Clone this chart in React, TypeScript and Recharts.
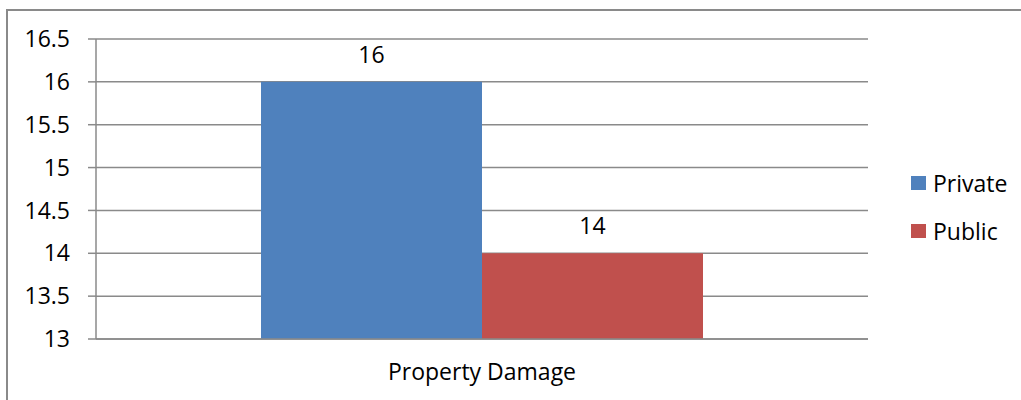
// PropertyDamageChart.tsx
import React from 'react';
import { BarChart, Bar, XAxis, YAxis, CartesianGrid, Legend, LabelList } from 'recharts';

const categories = ['Property Damage'];
const privateValues = [16];
const publicValues = [14];
const yTicks = [13, 13.5, 14, 14.5, 15, 15.5, 16, 16.5];

const data = categories.map((name, i) => ({
  name,
  Private: privateValues[i],
  Public: publicValues[i],
}));

const FONT = '"Open Sans", sans-serif';
const GRID = '#8a8a8a';

const renderLegend = (props: any) => {
  const { payload } = props;
  return (
    <div>
      {payload.map((entry: any) => (
        <div key={entry.value} style={{ display: 'flex', alignItems: 'center', height: 48 }}>
          <span style={{ width: 15, height: 14, background: entry.color, marginRight: 7, display: 'inline-block' }} />
          <span style={{ fontSize: 23, color: '#000', fontFamily: FONT }}>{entry.value}</span>
        </div>
      ))}
    </div>
  );
};

const App: React.FC = () => {
  return (
    <div style={{ position: 'absolute', left: 0, top: 0, width: 1021, height: 400, overflow: 'hidden', background: '#fff' }}>
      <BarChart
        width={1021}
        height={400}
        data={data}
        margin={{ top: 39, right: 153, bottom: 0, left: 0 }}
        barCategoryGap={165}
        barGap={0}
        style={{ position: 'absolute', left: 0, top: 0, fontFamily: FONT }}
      >
        <CartesianGrid vertical={false} stroke={GRID} strokeWidth={1.5} />
        <XAxis
          xAxisId="edge"
          type="number"
          domain={[0, 1]}
          ticks={[0, 1]}
          height={0}
          tick={false}
          axisLine={false}
          tickLine={{ stroke: GRID, strokeWidth: 1.5 }}
          tickSize={8}
        />
        <XAxis
          dataKey="name"
          height={61}
          axisLine={{ stroke: GRID, strokeWidth: 1.5 }}
          tickLine={false}
          tickSize={0}
          tickMargin={25}
          tick={{ fill: '#000', fontSize: 23 }}
        />
        <YAxis
          width={96}
          domain={[13, 16.5]}
          ticks={yTicks}
          interval={0}
          axisLine={{ stroke: GRID, strokeWidth: 1.5 }}
          tickLine={{ stroke: GRID, strokeWidth: 1.5 }}
          tickSize={8}
          tickMargin={18}
          tick={{ fill: '#000', fontSize: 23 }}
        />
        <Legend
          layout="vertical"
          align="center"
          verticalAlign="middle"
          content={renderLegend}
          wrapperStyle={{ left: 911, top: 159, width: 110 }}
        />
        <Bar dataKey="Private" fill="#4F81BD" isAnimationActive={false}>
          <LabelList dataKey="Private" position="top" offset={19} fill="#000" fontSize={23} />
        </Bar>
        <Bar dataKey="Public" fill="#C0504D" isAnimationActive={false}>
          <LabelList dataKey="Public" position="top" offset={19} fill="#000" fontSize={23} />
        </Bar>
      </BarChart>
      <div style={{ position: 'absolute', left: 6, top: 9, width: 1015, height: 2, background: GRID, zIndex: 10 }} />
      <div style={{ position: 'absolute', left: 6, top: 9, width: 2, height: 391, background: GRID, zIndex: 10 }} />
    </div>
  );
};

export default App;
